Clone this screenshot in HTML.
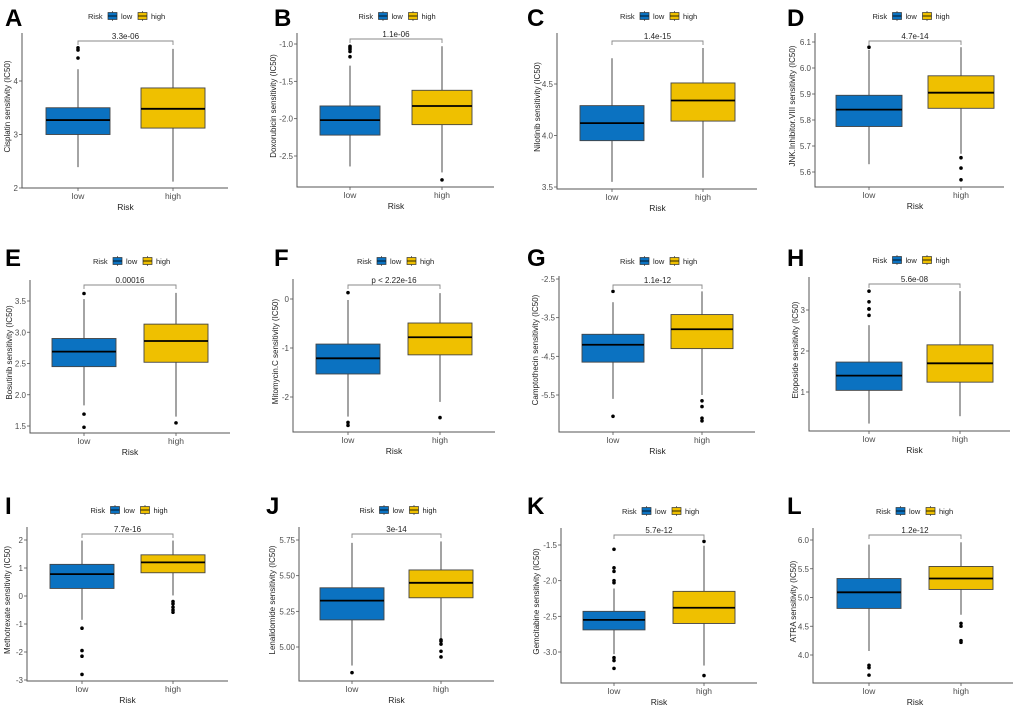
<!DOCTYPE html>
<html>
<head>
<meta charset="utf-8">
<style>
html,body{margin:0;padding:0;background:#fff;}
svg{display:block;font-family:"Liberation Sans",Arial,sans-serif;}
</style>
</head>
<body>
<svg id="fig" width="1020" height="708" viewBox="0 0 1020 708"></svg>
<script>
// ---- data arrays ----
const categories = ["low","high"];
const panelLetters = ["A","B","C","D","E","F","G","H","I","J","K","L"];
const yTitles = ["Cisplatin sensitivity (IC50)","Doxorubicin sensitivity (IC50)","Nilotinib sensitivity (IC50)","JNK.Inhibitor.VIII sensitivity (IC50)",
"Bosutinib sensitivity (IC50)","Mitomycin.C sensitivity (IC50)","Camptothecin sensitivity (IC50)","Etoposide sensitivity (IC50)",
"Methotrexate sensitivity (IC50)","Lenalidomide sensitivity (IC50)","Gemcitabine sensitivity (IC50)","ATRA sensitivity (IC50)"];
const pValues = ["3.3e-06","1.1e-06","1.4e-15","4.7e-14","0.00016","p < 2.22e-16","1.1e-12","5.6e-08","7.7e-16","3e-14","5.7e-12","1.2e-12"];
// [whiskerLow, q1, median, q3, whiskerHigh]
const lowStats = [
 [2.39,3.0,3.27,3.5,4.22],[-2.64,-2.22,-2.02,-1.83,-1.29],[3.55,3.95,4.12,4.29,4.75],[5.63,5.775,5.84,5.895,6.07],
 [1.83,2.45,2.69,2.9,3.53],[-2.4,-1.53,-1.21,-0.92,-0.02],[-5.6,-4.65,-4.2,-3.93,-3.1],[0.23,1.04,1.4,1.73,2.63],
 [-0.85,0.27,0.78,1.13,1.98],[4.87,5.19,5.325,5.415,5.73],[-3.03,-2.69,-2.55,-2.43,-2.11],[4.07,4.81,5.09,5.33,5.92]];
const highStats = [
 [2.12,3.12,3.48,3.87,4.6],[-2.72,-2.08,-1.83,-1.62,-1.03],[3.59,4.14,4.34,4.51,4.85],[5.67,5.845,5.905,5.97,6.08],
 [1.65,2.52,2.86,3.13,3.63],[-2.1,-1.14,-0.78,-0.49,0.12],[-5.5,-4.3,-3.8,-3.42,-2.82],[0.41,1.24,1.7,2.15,3.46],
 [0.02,0.83,1.2,1.47,1.98],[5.06,5.345,5.45,5.54,5.74],[-3.19,-2.6,-2.38,-2.15,-1.51],[4.7,5.14,5.33,5.54,5.96]];
const lowOutliers = [
 [4.43,4.58,4.62],[-1.17,-1.1,-1.07,-1.05,-1.03],[],[6.08],
 [3.62,1.69,1.48],[0.13,-2.52,-2.58],[-2.82,-6.05],[2.87,3.02,3.03,3.2,3.46],
 [-1.15,-1.95,-2.15,-2.8],[4.82],[-1.56,-1.82,-1.87,-2.0,-2.03,-3.08,-3.12,-3.23],[3.82,3.78,3.65]];
const highOutliers = [
 [],[-2.82],[],[5.655,5.615,5.57],
 [1.55],[-2.42],[-5.65,-5.8,-6.1,-6.17],[],
 [-0.2,-0.28,-0.4,-0.5,-0.58],[5.05,5.04,5.02,4.97,4.93],[-1.45,-3.33],[4.55,4.5,4.25,4.22]];
const yTicks = [
 ["2","3","4"],["-2.5","-2.0","-1.5","-1.0"],["3.5","4.0","4.5"],["5.6","5.7","5.8","5.9","6.0","6.1"],
 ["1.5","2.0","2.5","3.0","3.5"],["-2","-1","0"],["-5.5","-4.5","-3.5","-2.5"],["1","2","3"],
 ["-3","-2","-1","0","1","2"],["5.00","5.25","5.50","5.75"],["-3.0","-2.5","-2.0","-1.5"],["4.0","4.5","5.0","5.5","6.0"]];

// ---- layout (pixel geometry, not data) ----
const layout = [
 {x0:22,x1:228,top:33,bot:188,ref:[4,81,2,188],cl:78,ch:173,hw:32,by:41,ly:16,lx:5,lyT:5,tx:7},
 {x0:297,x1:494,top:33,bot:187,ref:[-1,44,-2.5,156],cl:350,ch:442,hw:30,by:39,ly:16,lx:274,lyT:5,tx:273},
 {x0:557,x1:757,top:33,bot:189,ref:[4.5,84,3.5,187],cl:612,ch:703,hw:32,by:41,ly:16,lx:527,lyT:5,tx:537},
 {x0:815,x1:1004,top:33,bot:187,ref:[6.1,42,5.6,172],cl:869,ch:961,hw:33,by:41,ly:16,lx:787,lyT:5,tx:792},
 {x0:30,x1:230,top:280,bot:433,ref:[3.5,301,1.5,426],cl:84,ch:176,hw:32,by:285,ly:261,lx:5,lyT:245,tx:9},
 {x0:293,x1:495,top:279,bot:432,ref:[0,299,-2,397],cl:348,ch:440,hw:32,by:285,ly:261,lx:274,lyT:245,tx:275},
 {x0:559,x1:755,top:276,bot:432,ref:[-2.5,279,-5.5,395],cl:613,ch:702,hw:31,by:285,ly:261,lx:527,lyT:245,tx:535},
 {x0:809,x1:1010,top:277,bot:431,ref:[3,310,1,392],cl:869,ch:960,hw:33,by:284,ly:260,lx:787,lyT:245,tx:795},
 {x0:27,x1:228,top:527,bot:681,ref:[2,540,-3,680],cl:82,ch:173,hw:32,by:534,ly:510,lx:5,lyT:493,tx:7},
 {x0:299,x1:494,top:527,bot:681,ref:[5.75,540,5.0,647],cl:352,ch:441,hw:32,by:534,ly:510,lx:266,lyT:493,tx:272},
 {x0:561,x1:757,top:528,bot:683,ref:[-1.5,545,-3.0,652],cl:614,ch:704,hw:31,by:535,ly:511,lx:527,lyT:493,tx:536},
 {x0:813,x1:1013,top:528,bot:683,ref:[6.0,540,4.0,655],cl:869,ch:961,hw:32,by:535,ly:511,lx:787,lyT:493,tx:793}];

const colors = ["#0b72c1","#efc000"];
const NS = "http://www.w3.org/2000/svg";
const svg = document.getElementById("fig");
function mk(tag, attrs, parent, text){
  const e = document.createElementNS(NS, tag);
  for (const k in attrs) e.setAttribute(k, attrs[k]);
  if (text !== undefined) e.textContent = text;
  (parent||svg).appendChild(e);
  return e;
}

for (let i = 0; i < 12; i++) {
  const L = layout[i];
  const [v1,y1,v2,y2] = L.ref;
  const yScale = v => y1 + (v - v1) * (y2 - y1) / (v2 - v1);
  const xScale = c => c === 0 ? L.cl : L.ch;
  const g = mk("g", {});
  
  

  const letter = mk("text", {x:L.lx, y:L.lyT+21, "font-size":24, "font-weight":"bold", fill:"#000"}, g, panelLetters[i]);
  
  

  const lcx = (L.x0 + L.x1) / 2;
  const lg = mk("g", {}, g);
  
  
  const lx0 = lcx - 37;
  mk("text", {x:lx0, y:L.ly+3, "font-size":7.5, fill:"#222"}, lg, "Risk");
  [0,1].forEach(c => {
    const kx = lx0 + 20 + c*30;
    const key = mk("g", {}, lg);
    
    
    mk("line", {x1:kx+4.5, x2:kx+4.5, y1:L.ly-5, y2:L.ly+5, stroke:"#555", "stroke-width":0.8}, key);
    mk("rect", {x:kx, y:L.ly-3.5, width:9, height:7, fill:colors[c], stroke:"#333", "stroke-width":0.7}, key);
    mk("line", {x1:kx, x2:kx+9, y1:L.ly, y2:L.ly, stroke:"#000", "stroke-width":0.8}, key);
    mk("text", {x:kx+13, y:L.ly+3, "font-size":7.5, fill:"#222"}, key, categories[c]);
  });

  const ax = mk("path", {d:`M${L.x0},${L.top}V${L.bot}H${L.x1}`, fill:"none", stroke:"#555", "stroke-width":1}, g);
  
  
  yTicks[i].forEach(t => {
    const y = yScale(parseFloat(t));
    mk("line", {x1:L.x0-3, x2:L.x0, y1:y, y2:y, stroke:"#555", "stroke-width":0.8}, g);
    const tl = mk("text", {x:L.x0-4, y:y+3, "font-size":8, fill:"#4d4d4d", "text-anchor":"end"}, g, t);
    
    
  });
  categories.forEach((c, k) => {
    const x = xScale(k);
    mk("line", {x1:x, x2:x, y1:L.bot, y2:L.bot+3, stroke:"#555", "stroke-width":0.8}, g);
    const xl = mk("text", {x:x, y:L.bot+11, "font-size":8.5, fill:"#4d4d4d", "text-anchor":"middle"}, g, c);
    
    
  });
  const xt = mk("text", {x:(L.cl+L.ch)/2, y:L.bot+22, "font-size":8.5, fill:"#222", "text-anchor":"middle"}, g, "Risk");
  
  
  const ym = (L.top + L.bot) / 2 - 4;
  const tx = L.tx + 3;
  const yt = mk("text", {x:tx, y:ym, "font-size":8, fill:"#222", "text-anchor":"middle", transform:`rotate(-90 ${tx} ${ym})`}, g, yTitles[i]);
  
  

  [lowStats[i], highStats[i]].forEach((s, k) => {
    const x = xScale(k);
    const bg = mk("g", {}, g);
    
    
    mk("line", {x1:x, x2:x, y1:yScale(s[0]), y2:yScale(s[4]), stroke:"#666", "stroke-width":1.2}, bg);
    mk("rect", {x:x-L.hw, y:yScale(s[3]), width:2*L.hw, height:yScale(s[1])-yScale(s[3]), fill:colors[k], stroke:"#444", "stroke-width":0.9}, bg);
    mk("line", {x1:x-L.hw, x2:x+L.hw, y1:yScale(s[2]), y2:yScale(s[2]), stroke:"#000", "stroke-width":1.8}, bg);
  });
  [lowOutliers[i], highOutliers[i]].forEach((arr, k) => {
    arr.forEach(v => {
      const o = mk("circle", {cx:xScale(k), cy:yScale(v), r:1.8, fill:"#000"}, g);
      
      
    });
  });

  const br = mk("path", {d:`M${L.cl},${L.by+4}V${L.by}H${L.ch}V${L.by+4}`, fill:"none", stroke:"#888", "stroke-width":0.9}, g);
  
  
  const pt = mk("text", {x:(L.cl+L.ch)/2, y:L.by-2, "font-size":8, fill:"#222", "text-anchor":"middle"}, g, pValues[i]);
  
  
}
</script>
</body>
</html>
